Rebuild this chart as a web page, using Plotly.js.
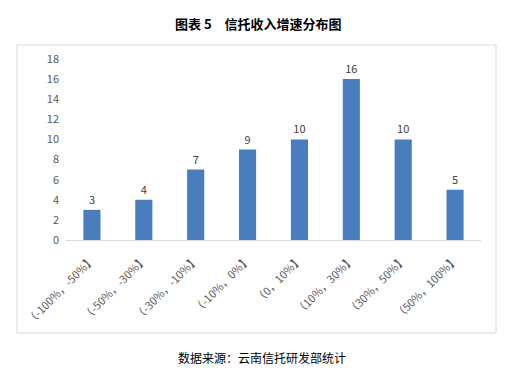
<!DOCTYPE html>
<html><head><meta charset="utf-8">
<script src="https://cdn.plot.ly/plotly-3.0.1.min.js"></script>
<style>html,body{margin:0;padding:0;background:#fff}#c{width:511px;height:372px}</style>
</head><body><div id="c"></div>
<script>
const categories = ["（-100%，-50%】","（-50%，-30%】","（-30%，-10%】","（-10%，0%】","（0，10%】","（10%，30%】","（30%，50%】","（50%，100%】"];
const counts = [3,4,7,9,10,16,10,5];
const yTicks = [0,2,4,6,8,10,12,14,16,18];
const titleText = "<b>图表 5　信托收入增速分布图</b>";
const sourceText = "数据来源：云南信托研发部统计";

const font = "Noto Sans CJK SC, Microsoft YaHei, sans-serif";
const trace = {
  type: "bar", x: categories, y: counts,
  marker: {color: "#4a7dbd"},
  text: counts.map(String), textposition: "outside",
  textfont: {family: font, size: 11, color: "#404040"},
  cliponaxis: false, hoverinfo: "none"
};
const W = 415, H = 181, L = 66, T = 59;
const px = v => (v - L) / W, py = v => (T + H - v) / H;
const layout = {
  width: 511, height: 372,
  margin: {l: L, r: 511 - L - W, t: T, b: 372 - T - H},
  paper_bgcolor: "#fff", plot_bgcolor: "#fff",
  bargap: 0.67, showlegend: false,
  font: {family: font, color: "#595959"},
  xaxis: {tickangle: -45, tickfont: {size: 11, color: "#595959"}, showline: true, linecolor: "#d9d9d9", linewidth: 1, ticks: "", ticklabelstandoff: 8, fixedrange: true},
  yaxis: {range: [0, 18], tickvals: yTicks, showgrid: false, zeroline: false, showline: false, ticks: "", tickfont: {size: 11, color: "#595959"}, ticklabelstandoff: 6, fixedrange: true},
  shapes: [{type: "rect", xref: "paper", yref: "paper", x0: px(17), x1: px(496), y0: py(333), y1: py(45), line: {color: "#d9d9d9", width: 1}, layer: "below"}],
  annotations: [
    {text: titleText, xref: "paper", yref: "paper", x: px(258), y: py(23), showarrow: false, xanchor: "center", yanchor: "middle", font: {size: 13, color: "#000", family: font}},
    {text: sourceText, xref: "paper", yref: "paper", x: px(262), y: py(357), showarrow: false, xanchor: "center", yanchor: "middle", font: {size: 12, color: "#000", family: font}}
  ]
};
Plotly.newPlot("c", [trace], layout, {displayModeBar: false, staticPlot: true});
</script></body></html>
